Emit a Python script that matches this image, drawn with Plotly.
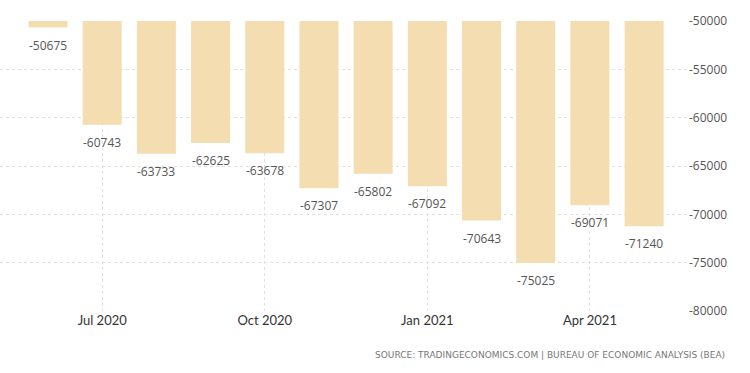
import plotly.graph_objects as go

months = ["Jun 2020", "Jul 2020", "Aug 2020", "Sep 2020", "Oct 2020", "Nov 2020",
          "Dec 2020", "Jan 2021", "Feb 2021", "Mar 2021", "Apr 2021", "May 2021"]
values = [-50675, -60743, -63733, -62625, -63678, -67307,
          -65802, -67092, -70643, -75025, -69071, -71240]
baseline = -50000
tick_labels = ["Jul 2020", "Oct 2020", "Jan 2021", "Apr 2021"]
y_ticks = [-50000, -55000, -60000, -65000, -70000, -75000, -80000]

idx = list(range(len(months)))
tick_idx = [months.index(t) for t in tick_labels]

fig = go.Figure(go.Bar(
    x=idx,
    y=[v - baseline for v in values],
    base=baseline,
    width=0.72,
    marker=dict(color="#F3DDB1", line=dict(width=0)),
    hovertext=months,
))

annotations = [dict(
    x=i, y=v, xref="x", yref="y", text=str(v), showarrow=False,
    yanchor="top", yshift=-7,
    font=dict(family="Open Sans", size=12, color="#555555"),
) for i, v in zip(idx, values)]

annotations.append(dict(
    text="SOURCE: TRADINGECONOMICS.COM | BUREAU OF ECONOMIC ANALYSIS (BEA)",
    xref="paper", yref="paper", x=1.057, y=-0.152, xanchor="right", yanchor="middle",
    showarrow=False, font=dict(family="DejaVu Sans", size=9, color="#777777"),
))

fig.update_layout(
    width=750, height=373,
    margin=dict(l=0, r=62, t=21, b=62),
    plot_bgcolor="white", paper_bgcolor="white",
    showlegend=False,
    xaxis=dict(
        range=[-0.886, 11.81],
        tickmode="array", tickvals=tick_idx, ticktext=tick_labels,
        showgrid=True, gridcolor="#e0e0e0", griddash="dot", gridwidth=1,
        zeroline=False, showline=False, ticks="",
        tickfont=dict(family="Lato", size=13, color="#333333"),
    ),
    yaxis=dict(
        range=[-80000, -50000], side="right",
        tickmode="array", tickvals=y_ticks, ticktext=[str(t) for t in y_ticks],
        showgrid=True, gridcolor="#e0e0e0", griddash="dot", gridwidth=1,
        zeroline=False, showline=False, ticks="",
        tickfont=dict(family="Open Sans", size=12, color="#555555"),
    ),
    annotations=annotations,
)

fig.write_html("out.html")
